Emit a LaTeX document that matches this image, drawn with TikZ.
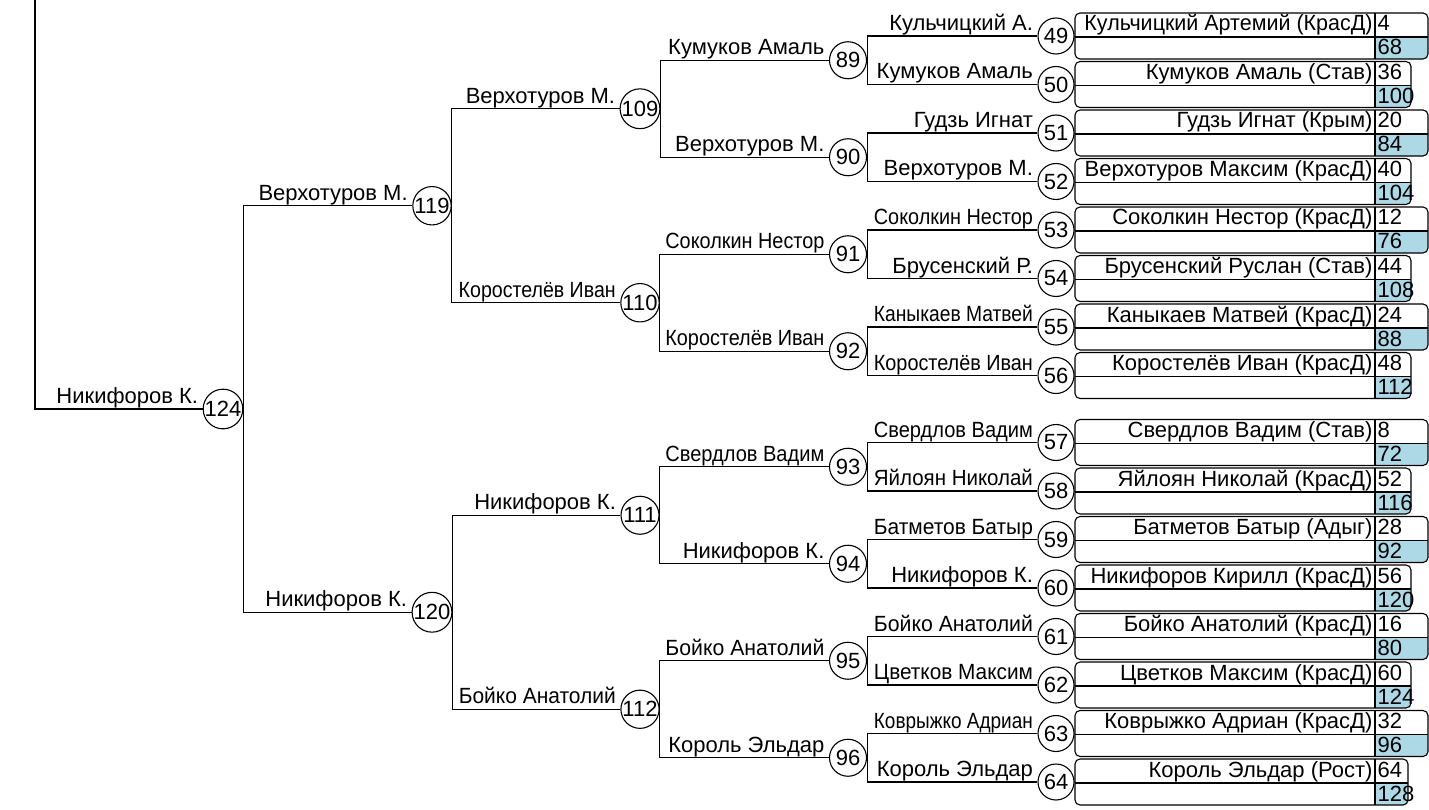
\documentclass[tikz,border=0pt]{standalone}
\usepackage{fontspec}
\setmainfont{Liberation Sans}
\usepackage{graphicx}
\newcommand\dfont{\fontsize{22}{26}\selectfont}
\newcommand\fitto[2]{\setbox0\hbox{#2}\ifdim\wd0>#1\relax\resizebox{#1}{\height}{#2}\else\box0\fi}
\definecolor{cellblue}{RGB}{173,216,230}
\begin{document}
\begin{tikzpicture}[x=1pt,y=-1pt,line width=1.1pt,
  circ/.style={draw,circle,inner sep=0pt,fill=white,font=\dfont},
  lbl/.style={anchor=base east,inner sep=0pt,font=\dfont},
  btext/.style={inner sep=0pt,font=\dfont}]
\useasboundingbox (0,0) rectangle (1429,810);
% boxes
\foreach \i/\cy/\nm/\a/\b/\R in {
 1/36/{Кульчицкий Артемий (КрасД)}/4/68/1428,
 2/84.5/{Кумуков Амаль (Став)}/36/100/1411,
 3/133/{Гудзь Игнат (Крым)}/20/84/1428,
 4/181.5/{Верхотуров Максим (КрасД)}/40/104/1411,
 5/230/{Соколкин Нестор (КрасД)}/12/76/1428,
 6/278.5/{Брусенский Руслан (Став)}/44/108/1411,
 7/327/{Каныкаев Матвей (КрасД)}/24/88/1428,
 8/375.5/{Коростелёв Иван (КрасД)}/48/112/1411,
 9/442.5/{Свердлов Вадим (Став)}/8/72/1428,
 10/491/{Яйлоян Николай (КрасД)}/52/116/1411,
 11/539.5/{Батметов Батыр (Адыг)}/28/92/1428,
 12/588/{Никифоров Кирилл (КрасД)}/56/120/1411,
 13/636.5/{Бойко Анатолий (КрасД)}/16/80/1428,
 14/685/{Цветков Максим (КрасД)}/60/124/1411,
 15/733.5/{Коврыжко Адриан (КрасД)}/32/96/1428,
 16/782/{Король Эльдар (Рост)}/64/128/1408}
{
 \begin{scope}
 \clip[rounded corners=5pt] (1075,{\cy-23}) rectangle (\R,{\cy+23});
 \fill[cellblue] (1375,{\cy+1}) rectangle (\R,{\cy+23});
 \end{scope}
 \draw[rounded corners=5pt] (1075,{\cy-23}) rectangle (\R,{\cy+23});
 \draw (1075,{\cy+1}) -- (\R,{\cy+1});
 \draw (1375,{\cy-23}) -- (1375,{\cy+23});
 \node[btext,anchor=base east] (n\i) at (1373,{\cy-5}) {\fitto{288pt}{\nm}};
 \node[btext,anchor=base west] (s\i) at (1377,{\cy-5}) {\a};
 \node[btext,anchor=base west] (t\i) at (1377,{\cy+19}) {\b};
}
% round 1
\foreach \n/\y/\lab in {
 49/36/{Кульчицкий А.}, 50/84.5/{Кумуков Амаль}, 51/133/{Гудзь Игнат},
 52/181.5/{Верхотуров М.}, 53/230/{Соколкин Нестор}, 54/278.5/{Брусенский Р.},
 55/327/{Каныкаев Матвей}, 56/375.5/{Коростелёв Иван}, 57/442.5/{Свердлов Вадим},
 58/491/{Яйлоян Николай}, 59/539.5/{Батметов Батыр}, 60/588/{Никифоров К.},
 61/636.5/{Бойко Анатолий}, 62/685/{Цветков Максим}, 63/733.5/{Коврыжко Адриан},
 64/782/{Король Эльдар}}
{
 \node[circ,minimum size=36pt] (c\n) at (1056,\y) {\n};
 \node[lbl] (l\n) at ([xshift=-4pt,yshift=5.5pt]c\n.west) {\fitto{159pt}{\lab}};
}
% round 2
\foreach \n/\y/\lab in {
 89/60.25/{Кумуков Амаль}, 90/157.25/{Верхотуров М.}, 91/254.25/{Соколкин Нестор},
 92/351.25/{Коростелёв Иван}, 93/466.75/{Свердлов Вадим}, 94/563.75/{Никифоров К.},
 95/660.75/{Бойко Анатолий}, 96/757.75/{Король Эльдар}}
{
 \node[circ,minimum size=37pt] (c\n) at (848,\y) {\n};
 \node[lbl] (l\n) at ([xshift=-4pt,yshift=5.5pt]c\n.west) {\fitto{159pt}{\lab}};
}
% round 3
\foreach \n/\y/\lab in {
 109/108.75/{Верхотуров М.}, 110/302.75/{Коростелёв Иван},
 111/515.25/{Никифоров К.}, 112/709.25/{Бойко Анатолий}}
{
 \node[circ,minimum size=38pt] (c\n) at (640,\y) {\n};
 \node[lbl] (l\n) at ([xshift=-4pt,yshift=5.5pt]c\n.west) {\fitto{157pt}{\lab}};
}
% round 4
\foreach \n/\y/\lab in {119/205.75/{Верхотуров М.}, 120/612.25/{Никифоров К.}}
{
 \node[circ,minimum size=38pt] (c\n) at (432,\y) {\n};
 \node[lbl] (l\n) at ([xshift=-4pt,yshift=5.5pt]c\n.west) {\fitto{157pt}{\lab}};
}
% round 5
\node[circ,minimum size=39pt] (c124) at (223,409) {124};
\node[lbl] (l124) at ([xshift=-4pt,yshift=5.5pt]c124.west) {Никифоров К.};
\coordinate (final) at (35,0);
% connectors
\foreach \a/\p/\b in {49/89/50,51/90/52,53/91/54,55/92/56,57/93/58,59/94/60,61/95/62,63/96/64,
  89/109/90,91/110/92,93/111/94,95/112/96,109/119/110,111/120/112,119/124/120}
{ \draw (c\a.west) -| (c\p.east) |- (c\b.west); }
\draw[line width=1.4pt] (c124.west) -| (final);
\end{tikzpicture}
\end{document}
